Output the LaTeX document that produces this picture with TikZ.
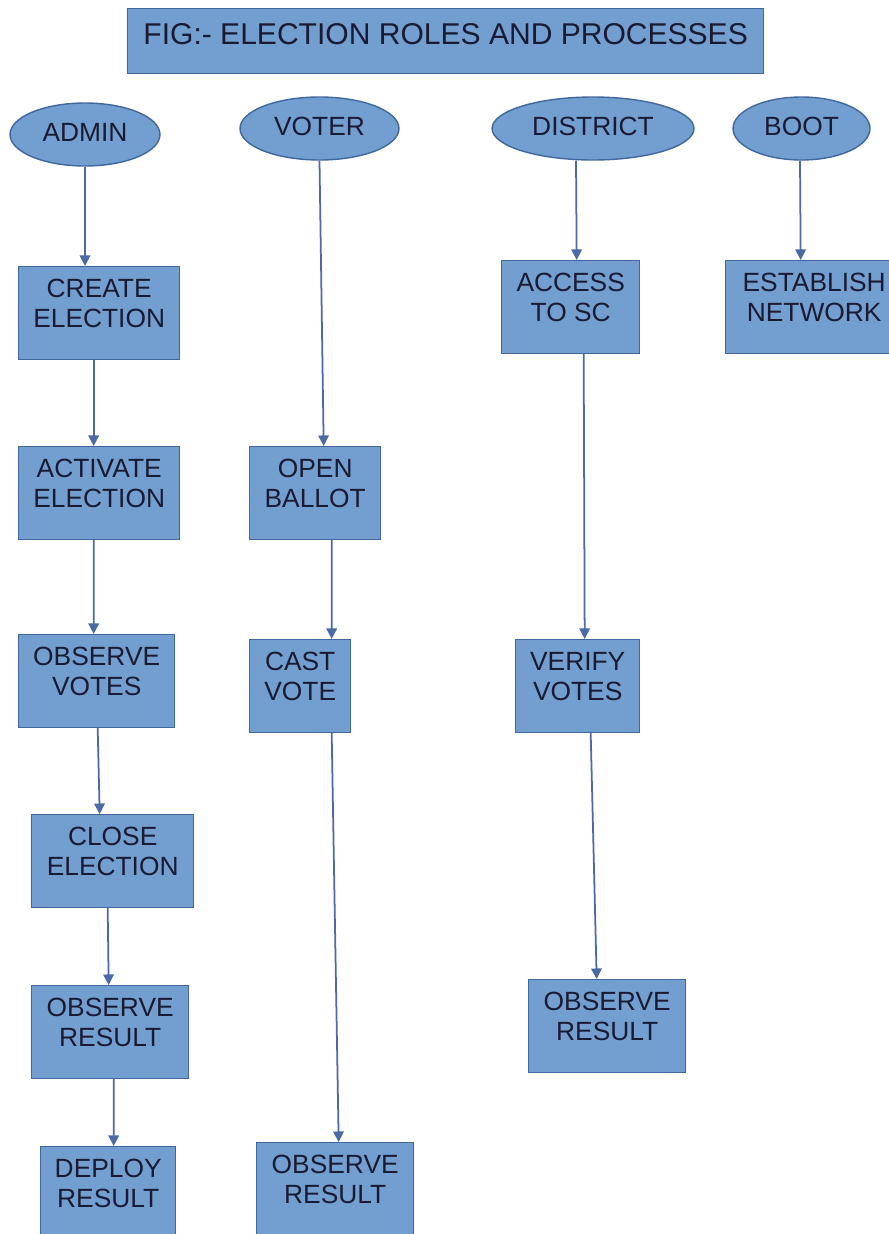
\documentclass[tikz,border=0pt]{standalone}
\usepackage{fontspec}
\setmainfont{Liberation Sans}
\usetikzlibrary{shapes.geometric,arrows.meta}

\definecolor{boxfill}{HTML}{729FCF}
\definecolor{boxline}{HTML}{41679F}
\definecolor{arrowcol}{HTML}{4A6AA5}
\definecolor{txtcol}{HTML}{1A1A33}

\tikzset{
  proc/.style={draw=boxline, fill=boxfill, line width=0.8pt, anchor=north west,
    align=center, inner sep=0pt, text height=34.6pt, text depth=18.1pt,
    text=txtcol, font=\fontsize{15}{17}\selectfont},
  role/.style={ellipse, draw=boxline, fill=boxfill, line width=0.8pt,
    inner sep=0pt, minimum height=1.26cm, text height=10.4pt, text depth=3pt,
    text=txtcol, font=\fontsize{15}{17}\selectfont},
  titlebox/.style={draw=boxline, fill=boxfill, line width=0.8pt, anchor=north west,
    inner sep=0pt, text height=20.4pt, text depth=16.4pt, text=txtcol,
    font=\fontsize{17.1}{19}\selectfont},
  flow/.style={draw=arrowcol, line width=1pt, -{Triangle[length=6pt,width=6pt]}}
}

\begin{document}
\begin{tikzpicture}[x=0.02cm, y=-0.02cm]
    \useasboundingbox (0,0) rectangle (889,1234);
    \clip (0,0) rectangle (889,1234);

    % Titolo
    \node[titlebox, minimum width=12.72cm] (title) at (127,8) {FIG:- ELECTION ROLES AND PROCESSES};

    % Ruoli
    \node[role, minimum width=3.0cm]  (admin)    at (85,134.5)  {ADMIN};
    \node[role, minimum width=3.18cm] (voter)    at (319.5,128.5) {VOTER};
    \node[role, minimum width=4.04cm] (district) at (593,128.5) {DISTRICT};
    \node[role, minimum width=2.74cm] (boot)     at (801.5,128.5) {BOOT};

    % Processi admin
    \node[proc, minimum width=3.22cm] (create)   at (18,266)  {CREATE\\ELECTION};
    \node[proc, minimum width=3.22cm] (activate) at (18,446)  {ACTIVATE\\ELECTION};
    \node[proc, minimum width=3.12cm] (obsvotes) at (18,634)  {OBSERVE\\VOTES};
    \node[proc, minimum width=3.24cm] (close)    at (31,814)  {CLOSE\\ELECTION};
    \node[proc, minimum width=3.14cm] (adminres) at (31,985)  {OBSERVE\\RESULT};
    \node[proc, minimum width=2.70cm] (deploy)   at (40,1146) {DEPLOY\\RESULT};

    % Processi voter
    \node[proc, minimum width=2.62cm] (ballot)   at (249,446)  {OPEN\\BALLOT};
    \node[proc, minimum width=2.02cm] (cast)     at (249,639)  {CAST\\VOTE};
    \node[proc, minimum width=3.14cm] (voterres) at (256,1142) {OBSERVE\\RESULT};

    % Processi district
    \node[proc, minimum width=2.76cm] (access)   at (501,260) {ACCESS\\TO SC};
    \node[proc, minimum width=2.48cm] (verify)   at (515,639) {VERIFY\\VOTES};
    \node[proc, minimum width=3.14cm] (distres)  at (528,979) {OBSERVE\\RESULT};

    % Processi boot
    \node[proc, minimum width=3.54cm] (network)  at (725,260) {ESTABLISH\\NETWORK};

    % Frecce admin
    \draw[flow] (admin.south) -- (admin.south |- create.north);
    \draw[flow] ([xshift=-0.11cm]create.south) -- ([xshift=-0.11cm]activate.north);
    \draw[flow] ([xshift=-0.11cm]activate.south) -- ([xshift=-0.06cm]obsvotes.north);
    \draw[flow] ([xshift=0.02cm]obsvotes.south) -- ([xshift=-0.26cm]close.north);
    \draw[flow] ([xshift=-0.1cm]close.south) -- ([xshift=-0.03cm]adminres.north);
    \draw[flow] ([xshift=0.07cm]adminres.south) -- ([xshift=0.11cm]deploy.north);

    % Frecce voter
    \draw[flow] (voter.south) -- ([xshift=0.17cm]ballot.north);
    \draw[flow] ([xshift=0.33cm]ballot.south) -- ([xshift=0.63cm]cast.north);
    \draw[flow] ([xshift=0.63cm]cast.south) -- ([xshift=0.07cm]voterres.north);

    % Frecce district
    \draw[flow] ([xshift=-0.34cm]district.south) -- ([xshift=0.12cm]access.north);
    \draw[flow] ([xshift=0.26cm]access.south) -- ([xshift=0.14cm]verify.north);
    \draw[flow] ([xshift=0.26cm]verify.south) -- ([xshift=-0.21cm]distres.north);

    % Freccia boot
    \draw[flow] ([xshift=-0.03cm]boot.south) -- ([xshift=-0.27cm]network.north);
  \end{tikzpicture}
\end{document}
